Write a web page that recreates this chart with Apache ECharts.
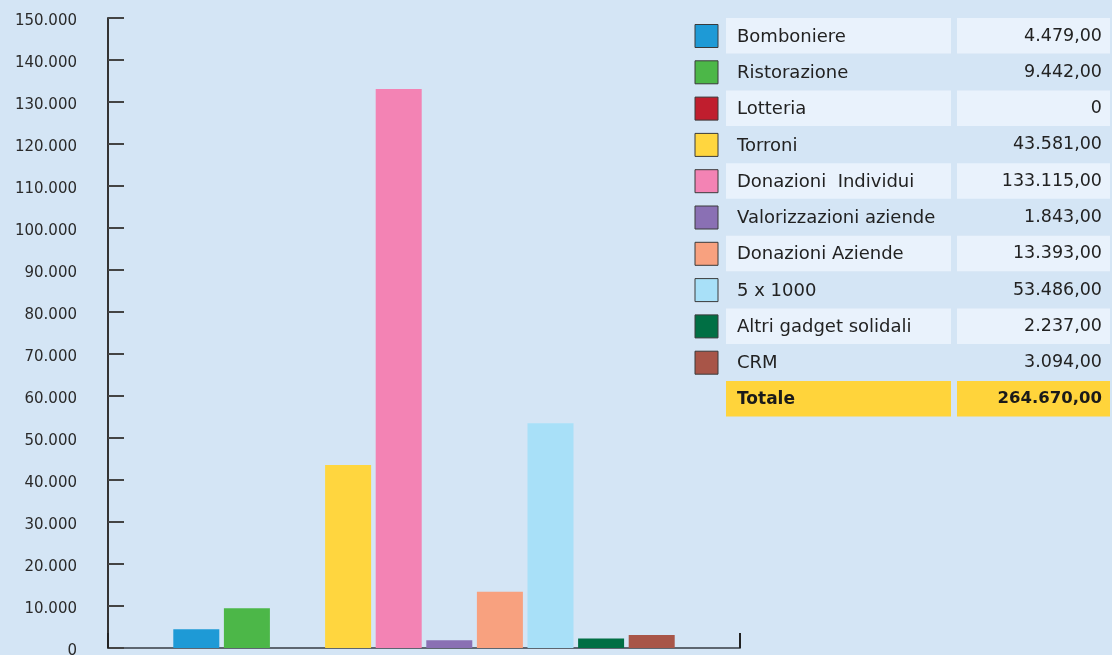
<!DOCTYPE html>
<html>
<head>
<meta charset="utf-8">
<script src="https://cdn.jsdelivr.net/npm/echarts@6/dist/echarts.min.js"></script>
<style>
  html, body { margin: 0; padding: 0; background: #d4e5f5; }
  #chart { width: 1112px; height: 655px; }
</style>
</head>
<body>
<div id="chart"></div>
<script>
const categories = ['Bomboniere', 'Ristorazione', 'Lotteria', 'Torroni', 'Donazioni  Individui',
  'Valorizzazioni aziende', 'Donazioni Aziende', '5 x 1000', 'Altri gadget solidali', 'CRM']
const values = [4479, 9442, 0, 43581, 133115, 1843, 13393, 53486, 2237, 3094]
const valueLabels = ['4.479,00', '9.442,00', '0', '43.581,00', '133.115,00', '1.843,00',
  '13.393,00', '53.486,00', '2.237,00', '3.094,00']
const totalLabel = ['Totale', '264.670,00']
const colors = ['#1e9ad6', '#4cb748', '#c01e2e', '#ffd63f', '#f383b4', '#8a70b4',
  '#f8a17f', '#a8e0f8', '#006f44', '#a85548']

const font = '"DejaVu Sans", sans-serif'
const chart = echarts.init(document.getElementById('chart'))

// legend table on the right
const rowTop = 18, rowH = 36.3
const graphic = []
categories.forEach((name, i) => {
  const y = rowTop + i * rowH
  if (i % 2 === 0) {
    graphic.push({ type: 'rect', shape: { x: 726, y: y, width: 225, height: 35.5 }, style: { fill: '#e9f2fc' } })
    graphic.push({ type: 'rect', shape: { x: 957, y: y, width: 153, height: 35.5 }, style: { fill: '#e9f2fc' } })
  }
  graphic.push({ type: 'rect', shape: { x: 695, y: y + 6.5, width: 23, height: 23 },
    style: { fill: colors[i], stroke: '#3a3a3a', lineWidth: 1 } })
  graphic.push({ type: 'text', x: 737, y: y + 19, style: { text: name, font: '18px ' + font, fill: '#222', verticalAlign: 'middle' } })
  graphic.push({ type: 'text', x: 1102, y: y + 18, style: { text: valueLabels[i], font: '17.5px ' + font, fill: '#222', align: 'right', verticalAlign: 'middle' } })
})
const ty = rowTop + 10 * rowH
graphic.push({ type: 'rect', shape: { x: 726, y: ty, width: 225, height: 35.5 }, style: { fill: '#ffd43b' } })
graphic.push({ type: 'rect', shape: { x: 957, y: ty, width: 153, height: 35.5 }, style: { fill: '#ffd43b' } })
graphic.push({ type: 'text', x: 737, y: ty + 19, style: { text: totalLabel[0], font: 'bold 17px ' + font, fill: '#1a1a1a', verticalAlign: 'middle' } })
graphic.push({ type: 'text', x: 1102, y: ty + 18, style: { text: totalLabel[1], font: 'bold 16.5px ' + font, fill: '#1a1a1a', align: 'right', verticalAlign: 'middle' } })

chart.setOption({
  backgroundColor: '#d4e5f5',
  animation: false,
  grid: { left: 108, right: 372, top: 18, bottom: 7, outerBoundsMode: 'none', containLabel: false },
  xAxis: {
    type: 'category',
    data: [''],
    boundaryGap: true,
    axisLine: { lineStyle: { color: '#5d6670', width: 2 } },
    axisTick: { show: true, inside: true, length: 15, lineStyle: { color: '#222', width: 2 } },
    axisLabel: { show: false }
  },
  yAxis: {
    type: 'value',
    min: 0, max: 150000, interval: 10000,
    axisLine: { show: true, lineStyle: { color: '#333', width: 2 } },
    axisTick: { show: true, inside: true, length: 16, lineStyle: { color: '#444', width: 2 } },
    splitLine: { show: false },
    axisLabel: {
      margin: 31,
      formatter: v => '{t|' + (v === 0 ? '0' : v.toLocaleString('de-DE')) + '}',
      rich: { t: { color: '#2a2a2a', fontSize: 15, fontFamily: font, padding: [6, 0, 0, 0] } }
    }
  },
  series: categories.map((name, i) => ({
    type: 'bar',
    name: name,
    data: [values[i]],
    barWidth: 46,
    barGap: '10%',
    itemStyle: { color: colors[i] }
  })),
  graphic: graphic
})
</script>
</body>
</html>
